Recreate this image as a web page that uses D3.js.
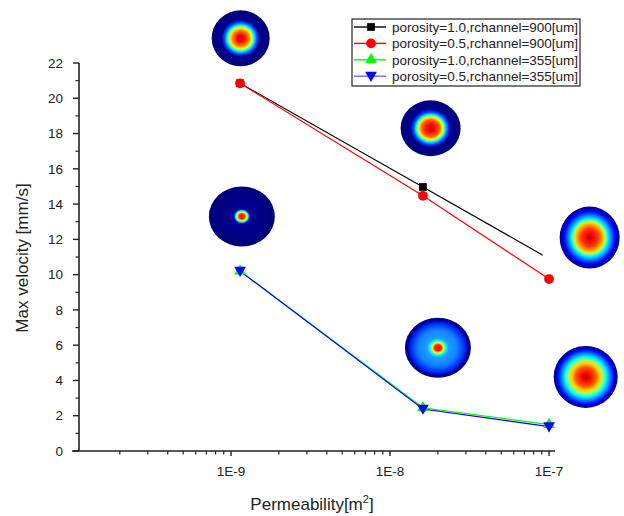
<!DOCTYPE html>
<html>
<head>
<meta charset="utf-8">
<script src="https://cdn.jsdelivr.net/npm/d3@7"></script>
<style>
  body { margin: 0; background: #fff; }
  svg { display: block; font-family: "Liberation Sans", Arial, sans-serif; }
</style>
</head>
<body>
<svg width="624" height="516"></svg>
<script>
// data
const permeability = [1.14e-9, 1.61e-8, 1e-7];
const seriesNames = [
  "porosity=1.0,rchannel=900[um]",
  "porosity=0.5,rchannel=900[um]",
  "porosity=1.0,rchannel=355[um]",
  "porosity=0.5,rchannel=355[um]"
];
const vPor10R900 = [20.85, 14.97, 10.9];
const vPor05R900 = [20.85, 14.47, 9.75];
const vPor10R355 = [10.2, 2.45, 1.5];
const vPor05R355 = [10.2, 2.38, 1.38];
const yTicks = [0, 2, 4, 6, 8, 10, 12, 14, 16, 18, 20, 22];
const xTickLabels = ["1E-9", "1E-8", "1E-7"];

// velocity-profile thumbnails (permeability, velocity placement; colour stops radius->jet)
const thumbs = [
  {k: 1.15e-9, v: 23.4, rx: 29, ry: 28, stops: [[0,"#b00000"],[0.12,"#ff0000"],[0.28,"#ff8000"],[0.38,"#ffff00"],[0.46,"#00ffff"],[0.56,"#0050ff"],[0.66,"#00008f"],[1,"#00007a"]]},
  {k: 1.8e-8, v: 18.3, rx: 30, ry: 28, stops: [[0,"#b00000"],[0.12,"#ff0000"],[0.3,"#ff6000"],[0.4,"#ffff00"],[0.48,"#00ffff"],[0.58,"#0040ff"],[0.68,"#00008f"],[1,"#00007a"]]},
  {k: 1.17e-9, v: 13.3, rx: 33, ry: 30, stops: [[0,"#ff0000"],[0.09,"#ff3000"],[0.14,"#ffff00"],[0.19,"#00ffff"],[0.24,"#0000c0"],[0.3,"#00008f"],[1,"#00007a"]]},
  {k: 2.0e-8, v: 5.85, rx: 33, ry: 30, stops: [[0,"#ff0000"],[0.1,"#ff2000"],[0.17,"#ffff00"],[0.24,"#00ffff"],[0.32,"#20a0ff"],[0.6,"#1080ff"],[0.8,"#0030ff"],[0.92,"#0000a0"],[1,"#00007a"]]},
  {k: 1.8e-7, v: 12.1, rx: 30, ry: 31, stops: [[0,"#a00000"],[0.12,"#ff0000"],[0.3,"#ff4000"],[0.45,"#ffc000"],[0.52,"#c0ff40"],[0.6,"#00ffff"],[0.72,"#0080ff"],[0.85,"#0000ff"],[1,"#00007a"]]},
  {k: 1.7e-7, v: 4.2, rx: 32, ry: 31, stops: [[0,"#a00000"],[0.12,"#ff0000"],[0.3,"#ff5000"],[0.44,"#ffd000"],[0.54,"#a0ff60"],[0.64,"#00ffff"],[0.76,"#0080ff"],[0.88,"#0000ff"],[1,"#00007a"]]}
];

const series = [
  {name: seriesNames[0], values: vPor10R900, color: "#000000", legendColor: "#000000", symbol: d3.symbolSquare, rot: 0, size: 60},
  {name: seriesNames[1], values: vPor05R900, color: "#ff0000", legendColor: "#ff0000", symbol: d3.symbolCircle, rot: 0, size: 75},
  {name: seriesNames[2], values: vPor10R355, color: "#00ff00", legendColor: "#00ff00", symbol: d3.symbolTriangle, rot: 0, size: 60},
  {name: seriesNames[3], values: vPor05R355, color: "#0000ff", legendColor: "#6a6aff", symbol: d3.symbolTriangle, rot: 180, size: 60}
];

const svg = d3.select("svg");
const x = d3.scaleLog().domain([1e-10, 1.09e-7]).range([72, 555]);
const y = d3.scaleLinear().domain([0, 22]).range([451, 63]);
const yAxisX = 79;

const defs = svg.append("defs");
defs.append("filter").attr("id", "soft")
  .append("feGaussianBlur").attr("stdDeviation", 0.7);

// axes
const minorX = [];
for (let e = -10; e <= -8; e++) for (let m = 1; m <= 9; m++) minorX.push(m * Math.pow(10, e));
minorX.push(1e-7);
const xMajor = [1e-9, 1e-8, 1e-7];

const gx = svg.append("g").attr("transform", "translate(0,451)");
gx.append("line").attr("x1", 72).attr("x2", 555).attr("stroke", "#222").attr("stroke-width", 1.6);
gx.selectAll(".mt").data(minorX.filter(v => !xMajor.includes(v) && v > 1e-10)).enter()
  .append("line").attr("x1", d => x(d)).attr("x2", d => x(d)).attr("y1", 0).attr("y2", 3.5)
  .attr("stroke", "#222").attr("stroke-width", 1.2);
gx.selectAll(".Mt").data(xMajor).enter()
  .append("line").attr("x1", d => x(d)).attr("x2", d => x(d)).attr("y1", 0).attr("y2", 5)
  .attr("stroke", "#222").attr("stroke-width", 1.4);
gx.selectAll(".xl").data(xMajor).enter()
  .append("text").attr("x", d => x(d)).attr("y", 25).attr("text-anchor", "middle")
  .attr("font-size", 13.5).attr("fill", "#222").text((d, i) => xTickLabels[i]);

const gy = svg.append("g").attr("transform", `translate(${yAxisX},0)`);
gy.append("line").attr("y1", y(0)).attr("y2", y(22)).attr("stroke", "#222").attr("stroke-width", 1.6);
gy.selectAll(".Mt").data(yTicks).enter()
  .append("line").attr("x1", -6).attr("x2", 0).attr("y1", d => y(d)).attr("y2", d => y(d))
  .attr("stroke", "#222").attr("stroke-width", 1.4);
gy.selectAll(".mt").data(d3.range(1, 22, 2)).enter()
  .append("line").attr("x1", -3.5).attr("x2", 0).attr("y1", d => y(d)).attr("y2", d => y(d))
  .attr("stroke", "#222").attr("stroke-width", 1.2);
gy.selectAll(".yl").data(yTicks).enter()
  .append("text").attr("x", -16).attr("y", d => y(d)).attr("dy", "0.35em").attr("text-anchor", "end")
  .attr("font-size", 13.5).attr("fill", "#222").text(d => d);

// axis titles
svg.append("text").attr("transform", "translate(28,258) rotate(-90)").attr("text-anchor", "middle")
  .attr("font-size", 17).attr("fill", "#222").text("Max velocity [mm/s]");
const xt = svg.append("text").attr("x", 312).attr("y", 510).attr("text-anchor", "middle")
  .attr("font-size", 17).attr("fill", "#222");
xt.append("tspan").text("Permeability[m");
xt.append("tspan").attr("font-size", 11).attr("dy", -7).text("2");
xt.append("tspan").attr("dy", 7).text("]");

// series
const line = d3.line().x((d, i) => x(permeability[i])).y(d => y(d));
series.forEach(s => {
  svg.append("path").datum(s.values).attr("d", line).attr("fill", "none")
    .attr("stroke", s.color).attr("stroke-width", 1.2);
});
series.forEach(s => {
  svg.selectAll(null).data(s.values).enter().append("path")
    .attr("d", d3.symbol().type(s.symbol).size(s.size))
    .attr("transform", (d, i) => `translate(${x(permeability[i])},${y(d) + (s.rot ? -1 : 0)}) rotate(${s.rot})`)
    .attr("fill", s.color);
});

// thumbnails, each on a white backing
const tg = svg.append("g");
thumbs.forEach((t, i) => {
  const cx = x(t.k), cy = y(t.v);
  const grad = defs.append("radialGradient").attr("id", "g" + i);
  t.stops.forEach(st => grad.append("stop").attr("offset", st[0]).attr("stop-color", st[1]));
  if (i === 4) {
    tg.append("rect").attr("x", cx - 47).attr("y", cy - 38).attr("width", 90).attr("height", 69).attr("fill", "#fff");
  }
  tg.append("ellipse").attr("cx", cx).attr("cy", cy).attr("rx", t.rx).attr("ry", t.ry)
    .attr("fill", `url(#g${i})`).attr("filter", "url(#soft)");
});

// legend
const lg = svg.append("g").attr("transform", "translate(352,19)");
lg.append("rect").attr("width", 228).attr("height", 67).attr("fill", "#fff")
  .attr("stroke", "#222").attr("stroke-width", 1.2);
const items = lg.selectAll(".item").data(series).enter().append("g")
  .attr("transform", (d, i) => `translate(0,${8 + i * 16.4})`);
items.append("line").attr("x1", 2).attr("x2", 34).attr("stroke", d => d.legendColor).attr("stroke-width", 1.4);
items.append("path").attr("d", d => d3.symbol().type(d.symbol).size(d.size)())
  .attr("transform", d => `translate(19,${d.rot ? -1 : 0}) rotate(${d.rot})`).attr("fill", d => d.color);
items.append("text").attr("x", 40).attr("dy", "0.35em").attr("font-size", 13.5).attr("fill", "#222").text(d => d.name);
</script>
</body>
</html>
